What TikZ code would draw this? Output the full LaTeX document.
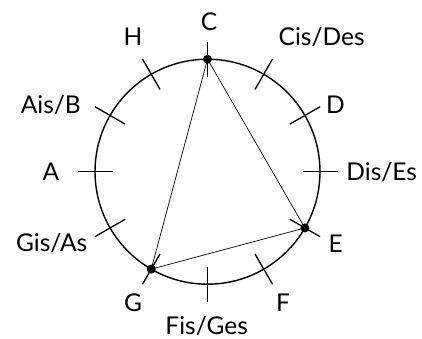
\documentclass[tikz,border=0pt]{standalone}
\usepackage{fontspec}
\setmainfont{Lato}
\usetikzlibrary{calc}
\begin{document}
\begin{tikzpicture}[x=1pt,y=1pt,
  lbl/.style={anchor=base,inner sep=0pt,font=\fontsize{24.5}{27}\selectfont},
  rim/.style={line width=1.4pt},
  tick/.style={line width=1.3pt},
  chord/.style={line width=0.7pt},
  dot/.style={circle,fill=black,inner sep=0pt,minimum size=9pt}]
\useasboundingbox (0,0) rectangle (422,338);
\coordinate (O) at (207.5,166.3);
\def\R{112.5}
\draw[rim] (O) circle (\R);
\foreach \a in {0,30,...,330}
  \draw[tick] ($(O)+(\a:\R-17.5)$) -- ($(O)+(\a:\R+17.5)$);
\coordinate (pC) at ($(O)+(90:\R)$);
\coordinate (pE) at ($(O)+(-30:\R)$);
\coordinate (pG) at ($(O)+(-120:\R)$);
\draw[chord] (pC) -- (pE) -- (pG) -- cycle;
\node[dot] (dC) at (pC) {};
\node[dot] (dE) at (pE) {};
\node[dot] (dG) at (pG) {};
\node[lbl] (C) at (209,307.3) {C};
\node[lbl] (H) at (133,292.3) {H};
\node[lbl] (Cis) at (321.7,292.3) {Cis/Des};
\node[lbl] (Ais) at (50.8,224.7) {Ais/B};
\node[lbl] (D) at (335.5,224.7) {D};
\node[lbl] (A) at (51,158) {A};
\node[lbl] (Dis) at (381.7,158) {Dis/Es};
\node[lbl] (Gis) at (51.7,86.3) {Gis/As};
\node[lbl] (E) at (335.8,86) {E};
\node[lbl] (G) at (133,26.3) {G};
\node[lbl] (F) at (283,26.3) {F};
\node[lbl] (Fis) at (206.7,3.8) {Fis/Ges};
\end{tikzpicture}
\end{document}
